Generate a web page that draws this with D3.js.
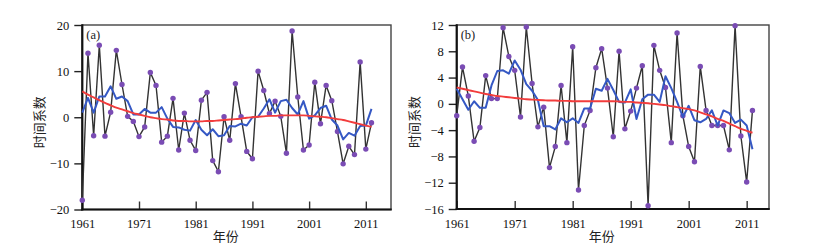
<!DOCTYPE html>
<html><head><meta charset="utf-8">
<script src="https://cdn.jsdelivr.net/npm/d3@7/dist/d3.min.js"></script>
<style>
html,body{margin:0;padding:0;background:#fff;}
svg{display:block;}
</style></head>
<body>
<svg id="chart" width="816" height="248"></svg>
<script>
const years = d3.range(1961, 2013);
const xTicks = [1961, 1971, 1981, 1991, 2001, 2011];
const yTicksA = [-20, -10, 0, 10, 20];
const yTicksB = [-16, -12, -8, -4, 0, 4, 8, 12];

const seriesA = [-18, 13.9, -4.0, 15.6, -4.1, 1.1, 14.5, 7.1, 0.2, -0.9,
  -4.2, -2.1, 9.7, 6.9, -5.4, -4.1, 4.1, -7.1, 0.9, -5.0,
  -7.2, 3.7, 5.4, -9.4, -11.8, 0.1, -5.0, 7.3, 0.1, -7.4,
  -9.0, 10.0, 5.8, 0.8, 3.5, 0.2, -7.8, 18.7, 4.4, -7.1,
  -6.0, 7.6, -1.4, 6.9, 3.6, -3.1, -10.1, -6.3, -8.1, 12.0,
  -6.9, -1.2];
const smoothA = [1.0, 4.2, 1.0, 4.5, 4.5, 6.7, 4.0, 4.5, 3.5, 0.6,
  0.6, 1.8, 1.0, 1.0, 2.2, -0.3, -2.1, -2.2, -2.7, -2.9,
  -0.6, -2.7, -3.9, -2.6, -4.1, -3.9, -1.9, -2.0, -1.4, -1.8,
  0.0, 0.1, 1.9, 3.9, 1.0, 3.5, 3.8, 2.0, 0.6, 3.5,
  -0.3, 0.4, 2.0, 2.5, -0.5, -1.8, -4.8, -3.4, -4.0, -1.9,
  -1.8, 1.8];
const trendA = [5.6, 4.9, 4.3, 3.7, 3.1, 2.6, 2.1, 1.7, 1.3, 0.9,
  0.6, 0.3, 0.0, -0.2, -0.4, -0.5, -0.7, -0.8, -0.8, -0.9,
  -0.9, -0.9, -0.8, -0.8, -0.7, -0.6, -0.5, -0.4, -0.3, -0.1,
  0.0, 0.1, 0.2, 0.3, 0.3, 0.4, 0.4, 0.4, 0.4, 0.4,
  0.3, 0.2, 0.1, 0.0, -0.2, -0.4, -0.6, -0.9, -1.2, -1.5,
  -1.8, -2.1];

const seriesB = [-1.8, 5.6, 1.2, -5.7, -3.6, 4.3, 0.8, 0.8, 11.6, 7.2,
  5.1, -2.0, 11.7, 3.1, -3.5, -0.5, -9.7, -6.5, 2.8, -5.9,
  8.7, -13.1, -3.3, -1.0, 5.5, 8.4, 2.4, -5.0, 8.0, -3.8,
  -1.1, 2.4, 5.8, -15.5, 8.9, 5.1, 2.5, -5.9, 10.8, -1.8,
  -6.5, -8.8, 5.7, -1.0, -3.3, -3.3, -3.3, -7.0, 11.9, -4.9,
  -11.9, -1.0];
const smoothB = [2.3, 0.7, -0.9, 0.4, -0.6, -0.6, 2.8, 5.0, 5.1, 4.6,
  6.6, 5.2, 3.0, 2.0, 0.6, -3.4, -3.4, -3.9, -2.2, -2.8,
  -2.2, -2.9, -0.7, -0.7, 2.3, 2.0, 3.8, 2.1, 0.3, 0.2,
  2.2, -2.3, 0.7, 1.4, 1.4, 0.3, 4.2, 2.4, 0.3, -2.0,
  -0.3, -2.5, -2.8, -2.3, -1.0, -3.3, -1.0, -1.4, -2.9, -2.4,
  -3.3, -6.9];
const trendB = [2.5, 2.3, 2.1, 1.9, 1.7, 1.5, 1.35, 1.2, 1.1, 1.0,
  0.9, 0.8, 0.7, 0.65, 0.6, 0.55, 0.5, 0.5, 0.45, 0.45,
  0.4, 0.4, 0.4, 0.4, 0.4, 0.4, 0.4, 0.4, 0.35, 0.3,
  0.3, 0.2, 0.15, 0.1, 0.0, -0.1, -0.2, -0.35, -0.5, -0.65,
  -0.8, -1.0, -1.3, -1.6, -1.9, -2.3, -2.6, -3.0, -3.4, -3.8,
  -4.1, -4.4];

const svg = d3.select("#chart");
const fmt = d => (d < 0 ? "\u2212" + Math.abs(d) : String(d));

function panel(cfg) {
  const x = d3.scaleLinear().domain([1961, cfg.xMax]).range([cfg.x0, cfg.x1]);
  const y = d3.scaleLinear().domain(cfg.yDomain).range([cfg.y1, cfg.y0]);
  const g = svg.append("g");

  // x axis (ticks inward)
  const gx = g.append("g").attr("transform", `translate(0,${cfg.y1})`)
    .call(d3.axisBottom(x).tickValues(xTicks).tickFormat(d => d)
      .tickSizeInner(-8).tickSizeOuter(0).tickPadding(10));
  gx.select(".domain").remove();
  gx.selectAll("line").attr("stroke", "#333").attr("stroke-width", 1.4);
  gx.selectAll("text").attr("font-family", "'Liberation Serif', 'DejaVu Serif', serif")
    .attr("font-size", "12.5px").attr("fill", "#111");

  // y axis (ticks outward)
  const gy = g.append("g").attr("transform", `translate(${cfg.x0},0)`)
    .call(d3.axisLeft(y).tickValues(cfg.yTicks).tickFormat(fmt)
      .tickSizeInner(8).tickSizeOuter(0).tickPadding(5));
  gy.select(".domain").remove();
  gy.selectAll("line").attr("stroke", "#222").attr("stroke-width", 1.4);
  gy.selectAll("text").attr("font-family", "'Liberation Serif', 'DejaVu Serif', serif")
    .attr("font-size", "12.5px").attr("fill", "#111");

  // frame
  g.append("rect").attr("x", cfg.x0).attr("y", cfg.y0)
    .attr("width", cfg.x1 - cfg.x0).attr("height", cfg.y1 - cfg.y0)
    .attr("fill", "none").attr("stroke", "#444").attr("stroke-width", 1.4);
  g.append("line").attr("x1", cfg.x0).attr("x2", cfg.x0).attr("y1", cfg.y0 - 0.7).attr("y2", cfg.y1 + 1)
    .attr("stroke", "#111").attr("stroke-width", 2.2);
  g.append("line").attr("x1", cfg.x0 - 1).attr("x2", cfg.x1 + 0.7).attr("y1", cfg.y1).attr("y2", cfg.y1)
    .attr("stroke", "#111").attr("stroke-width", 2.2);

  const line = d3.line().x((d, i) => x(years[i])).y(d => y(d));

  g.append("path").datum(cfg.series).attr("d", line)
    .attr("fill", "none").attr("stroke", "#333").attr("stroke-width", 1.4);
  g.selectAll("circle.pt").data(cfg.series).join("circle").attr("class", "pt")
    .attr("cx", (d, i) => x(years[i])).attr("cy", d => y(d)).attr("r", 2.7)
    .attr("fill", "#7a4cb4");
  g.append("path").datum(cfg.smooth).attr("d", line)
    .attr("fill", "none").attr("stroke", "#3558c4").attr("stroke-width", 2)
    .attr("stroke-linejoin", "round");
  g.append("path").datum(cfg.trend).attr("d", d3.line().curve(d3.curveMonotoneX).x((d, i) => x(years[i])).y(d => y(d)))
    .attr("fill", "none").attr("stroke", "#f23c3c").attr("stroke-width", 1.9);

  // labels
  g.append("text").attr("x", cfg.x0 + 4).attr("y", cfg.y0 + 14)
    .attr("font-family", "'Liberation Serif', 'DejaVu Serif', serif").attr("font-size", "12.5px")
    .attr("fill", "#222").text(cfg.label);
  g.append("text").attr("x", (cfg.x0 + cfg.x1) / 2 - 11).attr("y", 241)
    .attr("text-anchor", "middle").attr("font-family", "'Noto Sans CJK SC', sans-serif")
    .attr("font-size", "13px").attr("fill", "#222").text("年份");
  g.append("text").attr("transform", `translate(${cfg.x0 - 38},${(cfg.y0 + cfg.y1) / 2 + 5}) rotate(-90)`)
    .attr("text-anchor", "middle").attr("font-family", "'Noto Sans CJK SC', sans-serif")
    .attr("font-size", "13px").attr("fill", "#222").text("时间系数");
}

panel({x0: 82.3, x1: 391, y0: 25, y1: 209.5, xMax: 2015.44, yDomain: [-20, 20], yTicks: yTicksA,
  series: seriesA, smooth: smoothA, trend: trendA, label: "(a)"});
panel({x0: 456.7, x1: 769, y0: 25, y1: 209, xMax: 2014.85, yDomain: [-16, 12], yTicks: yTicksB,
  series: seriesB, smooth: smoothB, trend: trendB, label: "(b)"});
</script>
</body></html>
